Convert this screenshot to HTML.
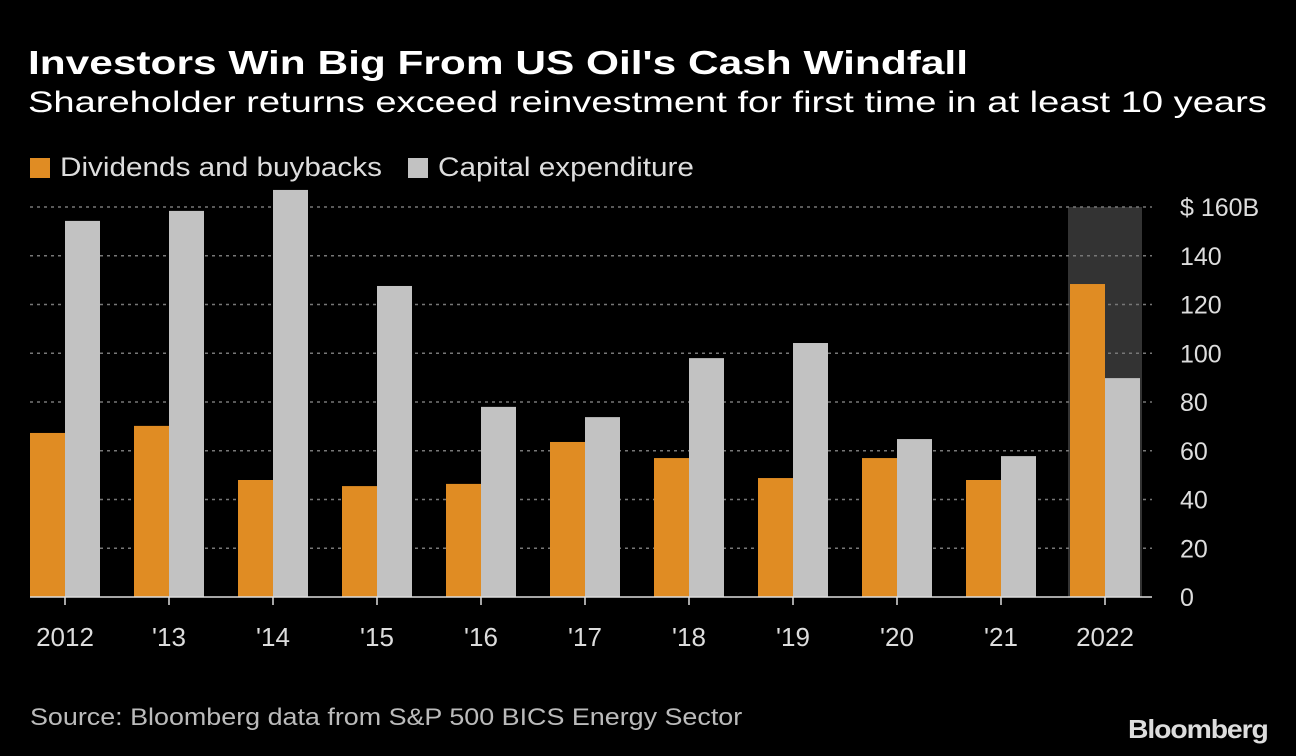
<!DOCTYPE html>
<html><head><meta charset="utf-8"><style>
body{margin:0;background:#000;width:1296px;height:756px;overflow:hidden;font-family:"Liberation Sans",sans-serif;color:#fff}
.t{position:absolute;white-space:nowrap;transform-origin:0 50%}
</style></head><body>
<div class="t" style="left:28px;top:44px;font-size:33px;font-weight:bold;transform:scaleX(1.285)">Investors Win Big From US Oil's Cash Windfall</div>
<div class="t" style="left:28px;top:86px;font-size:30px;transform:scaleX(1.27)">Shareholder returns exceed reinvestment for first time in at least 10 years</div>
<div class="t" style="left:30px;top:152px;font-size:27px;color:#ddd"><span style="display:inline-block;width:20px;height:20px;background:#e08c23;vertical-align:-2px;margin-right:10px"></span><span style="display:inline-block;transform:scaleX(1.1);transform-origin:0 50%">Dividends and buybacks</span></div>
<div class="t" style="left:408px;top:152px;font-size:27px;color:#ddd"><span style="display:inline-block;width:20px;height:20px;background:#c2c2c2;vertical-align:-2px;margin-right:10px"></span><span style="display:inline-block;transform:scaleX(1.1);transform-origin:0 50%">Capital expenditure</span></div>
<svg id="c" width="1296" height="756" style="position:absolute;left:0;top:0"></svg>
<div class="t" style="left:30px;top:704px;font-size:24px;color:#bbb;transform:scaleX(1.12)">Source: Bloomberg data from S&amp;P 500 BICS Energy Sector</div>
<div class="t" style="left:1128px;top:714px;font-size:26px;font-weight:bold;letter-spacing:-1px;color:#ddd;transform:scaleX(1.09)">Bloomberg</div>
<script>
const categories=["2012","'13","'14","'15","'16","'17","'18","'19","'20","'21","2022"];
const dividends=[67.3,70.2,48,45.5,46.4,63.6,57,48.8,57,48,128.4];
const capex=[154.3,158.4,167,127.6,78,73.8,98,104.2,64.8,57.8,89.8];
const ticks=[0,20,40,60,80,100,120,140,160];
const tickLabels=["0","20","40","60","80","100","120","140","$ 160B"];
const svg=document.getElementById('c');const NS='http://www.w3.org/2000/svg';
const y0=597,ppu=390/160,x0=30,step=104,bw=35;
const y=v=>y0-v*ppu;
function mk(t,a){const e=document.createElementNS(NS,t);for(const k in a)e.setAttribute(k,a[k]);svg.appendChild(e);return e;}
const hx=x0+step*(categories.length-1);
const hl=mk('rect',{x:hx-2,y:y(160),width:bw*2+4,height:y0-y(160),fill:'#333'});


ticks.forEach((t,i)=>{
 if(t>0){const g=mk('line',{x1:30,x2:1152,y1:y(t),y2:y(t),stroke:'#777','stroke-width':1.5,'stroke-dasharray':'3,4'});
 
 }
 const tx=mk('text',{x:1180,y:y(t)+9,fill:'#ddd','font-size':25,'font-family':'Liberation Sans'});
 tx.textContent=tickLabels[i];
 
 
});
categories.forEach((c,i)=>{
 const gx=x0+step*i;
 const a=mk('rect',{x:gx,y:y(dividends[i]),width:bw,height:dividends[i]*ppu,fill:'#e08c23'});
 
 
 const b=mk('rect',{x:gx+bw,y:y(capex[i]),width:bw,height:capex[i]*ppu,fill:'#c2c2c2'});
 
 
 const tk=mk('line',{x1:gx+bw,x2:gx+bw,y1:y0,y2:y0+8,stroke:'#ddd','stroke-width':1.5});
 
 
 const tx=mk('text',{x:gx+bw,y:646,fill:'#ddd','font-size':26,'text-anchor':'middle','font-family':'Liberation Sans'});
 tx.textContent=c;
 
 
});
const ax=mk('line',{x1:30,x2:1152,y1:y0,y2:y0,stroke:'#ddd','stroke-width':1.5});


</script>
</body></html>
